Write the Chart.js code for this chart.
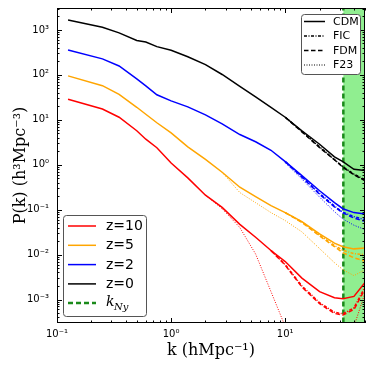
<!DOCTYPE html>
<html>
<head>
<meta charset="utf-8">
<script src="https://cdn.jsdelivr.net/npm/chart.js@4"></script>
<style>
  html, body { margin: 0; padding: 0; background: #fff; }
  #wrap { width: 374px; height: 374px; }
</style>
</head>
<body>
<div id="wrap"><canvas id="chart"></canvas></div>
<script>
// k grid (h/Mpc) shared by the CDM curves
const kGrid = [0.125, 0.25, 0.35, 0.5, 0.6, 0.75, 1.0, 1.4, 2.0, 2.8, 4.0, 5.5, 7.5, 10, 14, 20, 27, 32, 40, 50];

const cdmZ0  = [1670, 1150, 860, 585, 541, 425, 352, 253, 169, 102, 55.5, 32.4, 19, 11.4, 5.7, 2.86, 1.5, 1.17, 0.79, 0.74];
const cdmZ2  = [359, 227, 158, 81.5, 57, 36, 26.4, 19.4, 12.9, 8.15, 4.7, 3.24, 2.1, 1.17, 0.57, 0.264, 0.143, 0.105, 0.086, 0.08];
const cdmZ5  = [95, 57.5, 36.9, 19, 13.3, 8.6, 5.1, 2.5, 1.32, 0.68, 0.316, 0.195, 0.123, 0.086, 0.054, 0.029, 0.018, 0.015, 0.0134, 0.014];
const cdmZ10 = [28.8, 17.4, 11.4, 5.7, 3.7, 2.39, 1.09, 0.51, 0.21, 0.112, 0.047, 0.0243, 0.0123, 0.007, 0.003, 0.0015, 0.0011, 0.00104, 0.00117, 0.0024];

// small-scale tails where the other runs split off
const kHigh = [10, 14, 20, 27, 32, 40, 50];
const fdmZ0 = [11.4, 5.4, 2.4, 1.29, 0.88, 0.6, 0.44];
const ficZ0 = [11.4, 5.5, 2.5, 1.3, 0.9, 0.62, 0.46];
const f23Z0 = [11.4, 5.5, 2.45, 1.28, 0.9, 0.6, 0.45];
const fdmZ2 = [1.17, 0.53, 0.22, 0.115, 0.085, 0.065, 0.055];
const ficZ2 = [1.17, 0.54, 0.23, 0.12, 0.088, 0.07, 0.06];
const f23Z2 = [1.1, 0.48, 0.19, 0.09, 0.062, 0.045, 0.036];
const fdmZ5 = [0.086, 0.052, 0.026, 0.015, 0.011, 0.0085, 0.0071];
const ficZ5 = [0.086, 0.053, 0.027, 0.016, 0.0125, 0.0105, 0.01];

const kMid = [7.5, 10, 14, 20, 27, 32, 40, 50];
const fdmZ10 = [0.0123, 0.0058, 0.0019, 0.00081, 0.00049, 0.00045, 0.0006, 0.0017];
const ficZ10 = [0.0123, 0.006, 0.002, 0.00085, 0.00052, 0.00048, 0.00065, 0.0019];

const kF23z5 = [2.8, 4.0, 5.5, 7.5, 10, 14, 20, 27, 32, 40, 50];
const f23Z5 = [0.68, 0.24, 0.143, 0.086, 0.057, 0.032, 0.0136, 0.0066, 0.0046, 0.0034, 0.0046];
const kF23z10 = [2.0, 2.8, 4.0, 5.5, 7.5, 10, 14, 20, 27, 32, 40, 50];
const f23Z10 = [0.21, 0.105, 0.04, 0.0103, 0.0015, 0.00025, 0.00003, 0.00001, 0.00005, 0.00008, 0.00025, 0.0014];

const kNyquist = 32.3;
const xMin = 0.1, xMax = 50;
const yMin = 3.08e-4, yMax = 3080;

const zColors = { z10: '#ff0000', z5: '#ffa500', z2: '#0000ff', z0: '#000000' };
const DASH = [4.5, 2.5], DASHDOT = [3, 1.5, 1, 1.5], DOT = [1, 1.5];

function pts(ks, vals) { return ks.map((k, i) => ({ x: k, y: vals[i] })); }

function line(data, color, dash, width) {
    return {
        data, borderColor: color, backgroundColor: color,
        borderWidth: width || 1.5, borderDash: dash || [],
        pointRadius: 0, fill: false, tension: 0
    };
}

const datasets = [
    line(pts(kGrid, cdmZ0), zColors.z0),
    line(pts(kGrid, cdmZ2), zColors.z2),
    line(pts(kGrid, cdmZ5), zColors.z5),
    line(pts(kGrid, cdmZ10), zColors.z10),
    line(pts(kHigh, ficZ0), zColors.z0, DASHDOT),
    line(pts(kHigh, fdmZ0), zColors.z0, DASH),
    line(pts(kHigh, f23Z0), zColors.z0, DOT, 1),
    line(pts(kHigh, ficZ2), zColors.z2, DASHDOT),
    line(pts(kHigh, fdmZ2), zColors.z2, DASH),
    line(pts(kHigh, f23Z2), zColors.z2, DOT, 1),
    line(pts(kHigh, ficZ5), zColors.z5, DASHDOT),
    line(pts(kHigh, fdmZ5), zColors.z5, DASH),
    line(pts(kF23z5, f23Z5), zColors.z5, DOT, 1),
    line(pts(kMid, ficZ10), zColors.z10, DASHDOT),
    line(pts(kMid, fdmZ10), zColors.z10, DASH),
    line(pts(kF23z10, f23Z10), zColors.z10, DOT, 1),
    line([{ x: kNyquist, y: yMin }, { x: kNyquist, y: yMax }], '#1a8a1a', [5, 3], 2.5)
];

const SUP = { '-': '\u207b', '0': '\u2070', '1': '\u00b9', '2': '\u00b2', '3': '\u00b3' };
function pow10Label(v) {
    const n = Math.round(Math.log10(v));
    if (Math.abs(Math.log10(v) - n) > 1e-6) return '';
    return '10' + String(n).split('').map(c => SUP[c]).join('');
}

function logTicks(lo, hi) {
    const out = [];
    for (let e = Math.floor(Math.log10(lo)); e <= Math.ceil(Math.log10(hi)); e++) {
        for (let m = 1; m < 10; m++) {
            const v = m * Math.pow(10, e);
            if (v >= lo * 0.9999 && v <= hi * 1.0001) out.push({ value: v, major: m === 1 });
        }
    }
    return out;
}

const framePlugin = {
    id: 'frame',
    beforeDatasetsDraw(chart) {
        const { ctx, chartArea: a, scales } = chart;
        const x0 = scales.x.getPixelForValue(kNyquist);
        ctx.save();
        ctx.fillStyle = '#90ee90';
        ctx.fillRect(x0, a.top, a.right - x0, a.bottom - a.top);
        ctx.restore();
    },
    afterDatasetsDraw(chart) {
        const { ctx, chartArea: a, scales } = chart;
        ctx.save();
        ctx.strokeStyle = '#000';
        ctx.lineWidth = 1;
        scales.x.ticks.forEach(t => {
            const px = Math.round(scales.x.getPixelForValue(t.value)) + 0.5;
            const len = t.major ? 5 : 2.5;
            ctx.beginPath();
            ctx.moveTo(px, a.bottom); ctx.lineTo(px, a.bottom - len);
            ctx.moveTo(px, a.top); ctx.lineTo(px, a.top + len);
            ctx.stroke();
        });
        scales.y.ticks.forEach(t => {
            const py = Math.round(scales.y.getPixelForValue(t.value)) + 0.5;
            const len = t.major ? 5 : 2.5;
            ctx.beginPath();
            ctx.moveTo(a.left, py); ctx.lineTo(a.left + len, py);
            ctx.moveTo(a.right, py); ctx.lineTo(a.right - len, py);
            ctx.stroke();
        });
        ctx.strokeRect(a.left + 0.5, a.top + 0.5, a.right - a.left - 1, a.bottom - a.top - 1);
        ctx.restore();
    },
    afterDraw(chart) {
        const ctx = chart.ctx;
        ctx.save();
        function box(x, y, w, h) {
            ctx.beginPath();
            ctx.roundRect(x + 0.5, y + 0.5, w, h, 3);
            ctx.fillStyle = '#fff';
            ctx.fill();
            ctx.strokeStyle = '#555';
            ctx.lineWidth = 1;
            ctx.stroke();
        }
        function sample(x1, x2, y, color, dash, w) {
            ctx.beginPath();
            ctx.setLineDash(dash);
            ctx.strokeStyle = color;
            ctx.lineWidth = w;
            ctx.moveTo(x1, y); ctx.lineTo(x2, y);
            ctx.stroke();
            ctx.setLineDash([]);
        }
        ctx.textBaseline = 'middle';
        ctx.textAlign = 'left';

        // model legend, top right
        box(301, 14, 59, 60);
        const models = [['CDM', [], 1.5], ['FIC', DASHDOT, 1.5], ['FDM', DASH, 1.5], ['F23', DOT, 1]];
        ctx.font = '11px "DejaVu Sans"';
        models.forEach((m, i) => {
            const y = 21.5 + i * 14.5;
            sample(304, 325, y, '#000', m[1], m[2]);
            ctx.fillStyle = '#000';
            ctx.fillText(m[0], 333, y + 0.5);
        });

        // redshift legend, bottom left
        box(63, 215, 83, 101);
        const zs = [['z=10', zColors.z10], ['z=5', zColors.z5], ['z=2', zColors.z2], ['z=0', zColors.z0]];
        ctx.font = '14px "DejaVu Sans"';
        zs.forEach((z, i) => {
            const y = 226 + i * 19.3;
            sample(68, 96, y, z[1], [], 1.5);
            ctx.fillStyle = '#000';
            ctx.fillText(z[0], 106, y + 0.5);
        });
        const yk = 303;
        sample(68, 96, yk, '#1a8a1a', [5, 3], 2.5);
        ctx.fillStyle = '#000';
        ctx.font = 'italic 14px "DejaVu Serif"';
        ctx.fillText('k', 106, yk - 1);
        ctx.font = 'italic 10px "DejaVu Serif"';
        ctx.fillText('Ny', 114, yk + 4);
        ctx.restore();
    }
};

const axisTick = { family: 'DejaVu Sans', size: 10 };

new Chart(document.getElementById('chart'), {
    type: 'line',
    data: { datasets },
    options: {
        responsive: true,
        maintainAspectRatio: false,
        animation: false,
        layout: { padding: { top: 8, right: 9, left: 0, bottom: 0 } },
        plugins: { legend: { display: false }, tooltip: { enabled: false } },
        scales: {
            x: {
                type: 'logarithmic', min: xMin, max: xMax,
                afterBuildTicks: s => { s.ticks = logTicks(xMin, xMax); },
                afterFit: s => { s.height = 51; s.paddingRight = 0; },
                grid: { display: false, drawTicks: false }, border: { display: false },
                ticks: { autoSkip: false, maxRotation: 0, padding: 5, color: '#000', font: axisTick, callback: pow10Label },
                title: { display: true, text: 'k (hMpc\u207b\u00b9)', color: '#000',
                         font: { family: 'DejaVu Serif', size: 16 }, padding: { top: 0, bottom: 14 } }
            },
            y: {
                type: 'logarithmic', min: yMin, max: yMax,
                afterBuildTicks: s => { s.ticks = logTicks(yMin, yMax); },
                afterFit: s => { s.width = 57; s.paddingTop = 0; s.paddingBottom = 0; },
                grid: { display: false, drawTicks: false }, border: { display: false },
                ticks: { autoSkip: false, padding: 8, color: '#000', font: axisTick, callback: pow10Label },
                title: { display: true, text: 'P(k) (h\u00b3Mpc\u207b\u00b3)', color: '#000',
                         font: { family: 'DejaVu Serif', size: 16 }, padding: { top: 11, bottom: 0 } }
            }
        }
    },
    plugins: [framePlugin]
});
</script>
</body>
</html>
